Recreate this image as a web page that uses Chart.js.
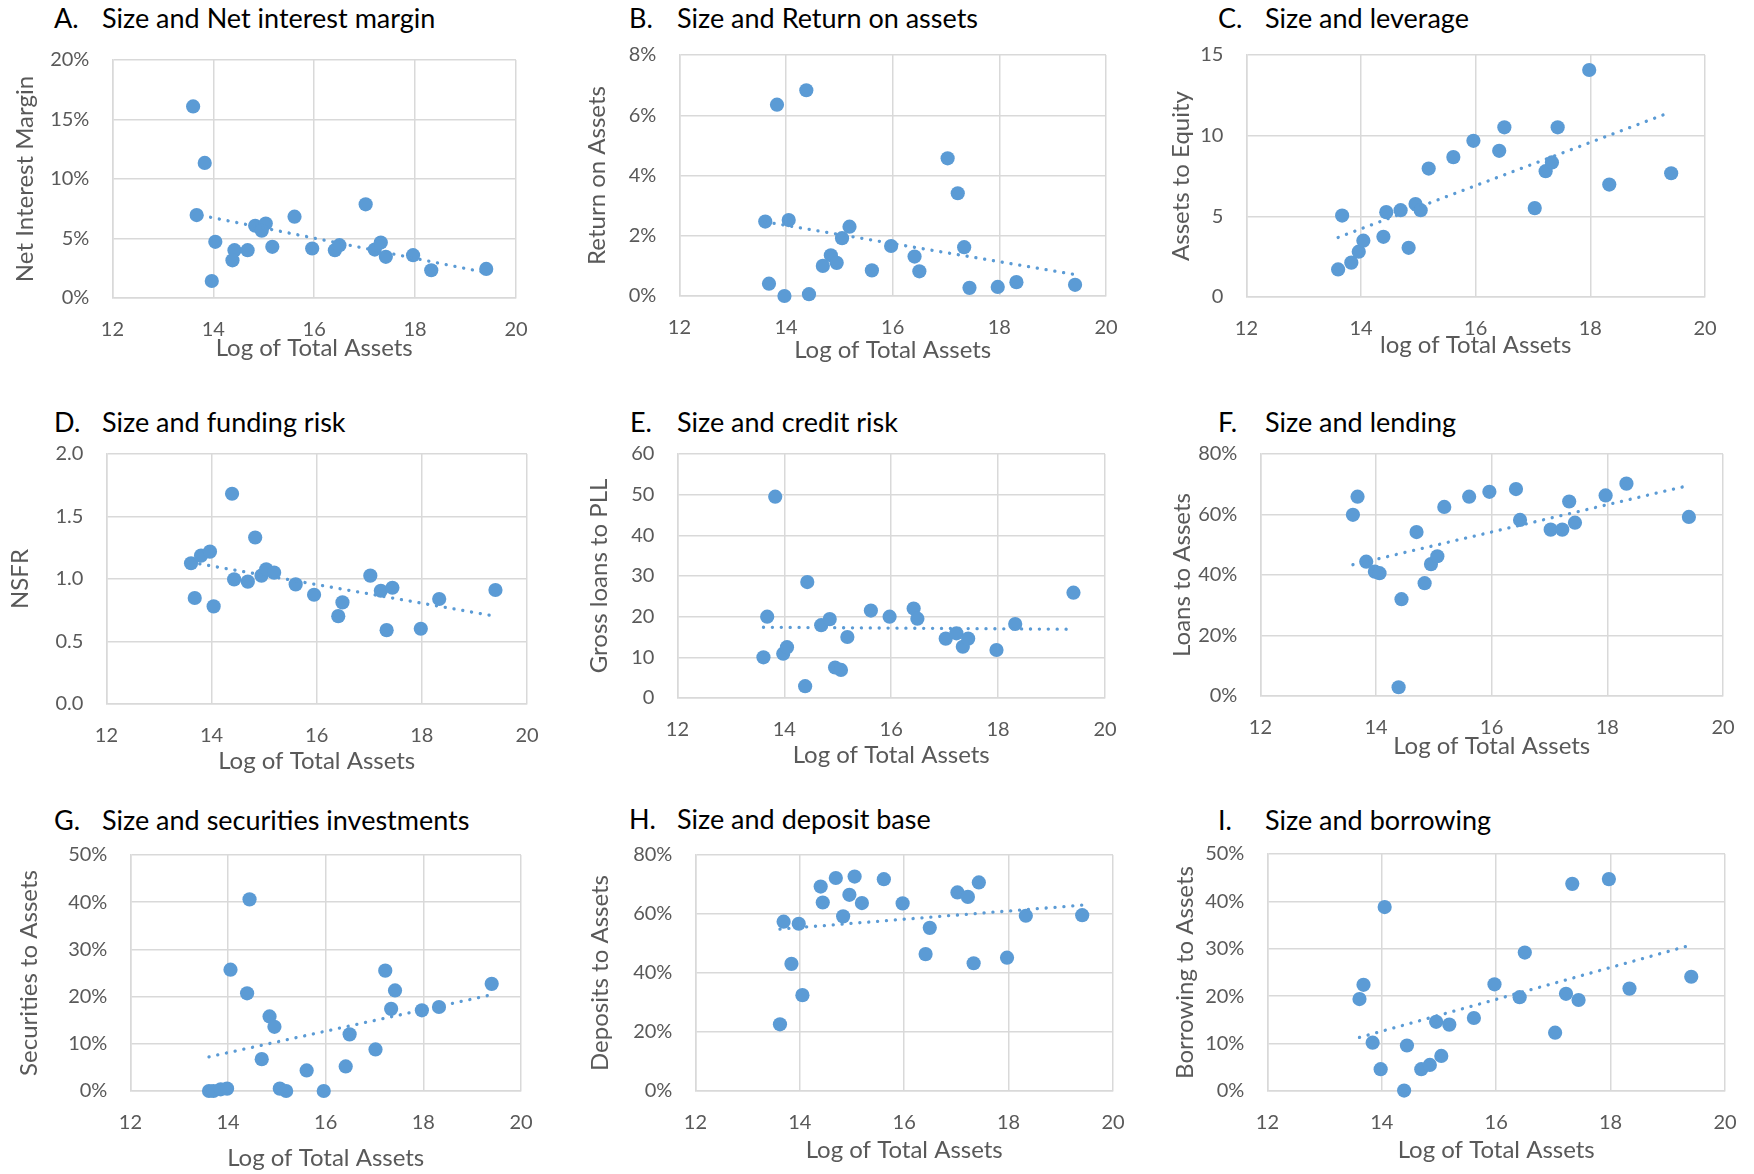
<!DOCTYPE html>
<html>
<head>
<meta charset="utf-8">
<script src="https://cdn.jsdelivr.net/npm/chart.js@4.4.1/dist/chart.umd.min.js"></script>
<style>
  body { margin: 0; background: #fff; width: 1754px; height: 1174px; position: relative; overflow: hidden; font-family: Lato, "Open Sans", sans-serif; }
  canvas { position: absolute; }
  .title { position: absolute; font-size: 27px; line-height: 27px; color: #000; white-space: nowrap; }
</style>
</head>
<body>
<script>
// ---------- data (x = log of total assets) ----------

// A. Net interest margin (%)
const xA = [13.60, 13.83, 13.67, 14.04, 13.97, 14.42, 14.38, 14.68, 14.83, 15.04, 14.96, 15.17, 15.61, 15.96, 16.41, 16.50, 17.02, 17.20, 17.32, 17.42, 17.96, 18.32, 19.41];
const yA = [16.1, 11.35, 6.97, 4.72, 1.43, 4.02, 3.17, 4.02, 6.07, 6.26, 5.65, 4.30, 6.83, 4.16, 4.02, 4.44, 7.87, 4.07, 4.66, 3.46, 3.60, 2.33, 2.44];
const trendXA = [13.60, 19.41];
const trendYA = [7.08, 2.13];

// B. Return on assets (%)
const xB = [13.83, 14.38, 13.61, 14.05, 13.68, 13.97, 14.43, 14.69, 14.84, 14.95, 15.05, 15.19, 15.61, 15.97, 16.41, 16.50, 17.03, 17.22, 17.34, 17.44, 17.97, 18.32, 19.42];
const yB = [6.35, 6.83, 2.47, 2.52, 0.41, 0.0, 0.06, 1.0, 1.35, 1.10, 1.92, 2.30, 0.85, 1.66, 1.31, 0.82, 4.57, 3.41, 1.62, 0.27, 0.30, 0.46, 0.37];
const trendXB = [13.61, 19.42];
const trendYB = [2.46, 0.71];

// C. Assets to equity
const xC = [13.60, 13.83, 13.96, 14.04, 13.67, 14.39, 14.44, 14.69, 14.83, 14.95, 15.04, 15.18, 15.61, 15.96, 16.41, 16.50, 17.03, 17.22, 17.33, 17.43, 17.98, 18.33, 19.41];
const yC = [1.71, 2.13, 2.81, 3.49, 5.05, 3.73, 5.26, 5.38, 3.05, 5.76, 5.38, 7.96, 8.67, 9.68, 9.06, 10.52, 5.51, 7.80, 8.34, 10.52, 14.07, 6.97, 7.67];
const trendXC = [13.60, 19.41];
const trendYC = [3.69, 11.47];

// D. NSFR
const xD = [13.61, 13.80, 13.97, 13.68, 14.04, 14.39, 14.43, 14.69, 14.83, 14.95, 15.04, 15.19, 15.60, 15.95, 16.41, 16.49, 17.02, 17.22, 17.33, 17.44, 17.98, 18.33, 19.40];
const yD = [1.126, 1.187, 1.219, 0.848, 0.781, 1.682, 0.997, 0.979, 1.332, 1.027, 1.078, 1.051, 0.957, 0.874, 0.703, 0.813, 1.027, 0.906, 0.591, 0.930, 0.602, 0.840, 0.912];
const trendXD = [13.61, 19.40];
const trendYD = [1.133, 0.702];

// E. Gross loans to PLL
const xE = [13.61, 13.68, 13.83, 13.98, 14.05, 14.39, 14.43, 14.69, 14.85, 14.95, 15.06, 15.18, 15.62, 15.97, 16.42, 16.49, 17.02, 17.22, 17.34, 17.44, 17.97, 18.32, 19.41];
const yE = [10.0, 20.0, 49.5, 10.9, 12.5, 2.9, 28.5, 17.9, 19.4, 7.5, 6.9, 15.0, 21.5, 20.0, 22.0, 19.5, 14.6, 15.9, 12.6, 14.6, 11.8, 18.2, 25.9];
const trendXE = [13.61, 19.41];
const trendYE = [17.4, 16.9];

// F. Loans to assets (%)
const xF = [13.60, 13.68, 13.83, 13.98, 14.06, 14.39, 14.44, 14.70, 14.84, 14.95, 15.06, 15.18, 15.61, 15.96, 16.42, 16.49, 17.02, 17.22, 17.34, 17.44, 17.97, 18.33, 19.41];
const yF = [59.9, 65.9, 44.4, 41.1, 40.6, 2.9, 32.0, 54.2, 37.3, 43.6, 46.2, 62.5, 65.9, 67.5, 68.4, 58.2, 55.0, 55.0, 64.3, 57.3, 66.3, 70.2, 59.2];
const trendXF = [13.60, 19.41];
const trendYF = [43.4, 69.6];

// G. Securities to assets (%)
const xG = [13.61, 13.70, 13.85, 13.98, 14.05, 14.44, 14.39, 14.69, 14.85, 14.95, 15.06, 15.19, 15.61, 15.96, 16.41, 16.49, 17.02, 17.22, 17.34, 17.42, 17.97, 18.32, 19.40];
const yG = [0.0, 0.0, 0.35, 0.5, 25.7, 40.6, 20.7, 6.75, 15.8, 13.6, 0.5, 0.0, 4.36, 0.0, 5.2, 12.0, 8.8, 25.5, 17.4, 21.3, 17.1, 17.8, 22.7];
const trendXG = [13.61, 19.40];
const trendYG = [7.24, 20.4];

// H. Deposits to assets (%)
const xH = [13.62, 13.69, 13.84, 13.98, 14.05, 14.40, 14.44, 14.69, 14.83, 14.95, 15.05, 15.19, 15.61, 15.97, 16.41, 16.49, 17.02, 17.22, 17.33, 17.43, 17.97, 18.33, 19.41];
const yH = [22.6, 57.4, 43.1, 56.7, 32.5, 69.3, 63.9, 72.2, 59.2, 66.5, 72.7, 63.7, 71.8, 63.6, 46.4, 55.3, 67.3, 65.8, 43.3, 70.7, 45.2, 59.4, 59.6];
const trendXH = [13.62, 19.41];
const trendYH = [54.9, 63.0];

// I. Borrowing to assets (%)
const xI = [13.61, 13.68, 13.84, 13.98, 14.05, 14.39, 14.44, 14.69, 14.84, 14.95, 15.04, 15.18, 15.61, 15.97, 16.41, 16.50, 17.03, 17.22, 17.33, 17.44, 17.97, 18.33, 19.41];
const yI = [19.4, 22.4, 10.2, 4.6, 38.8, 0.1, 9.6, 4.6, 5.5, 14.6, 7.4, 14.0, 15.4, 22.5, 19.8, 29.2, 12.3, 20.5, 43.7, 19.2, 44.7, 21.6, 24.1];
const trendXI = [13.61, 19.41];
const trendYI = [11.3, 30.8];

const xTicks = [12, 14, 16, 18, 20];

/* ===============================
   PANELS
================================ */

const pct = v => v + "%";
const panels = [
  { label: "A.", title: "Size and Net interest margin", yTitle: "Net Interest Margin", xTitle: "Log of Total Assets", x: xA, y: yA, tx: trendXA, ty: trendYA, yMax: 20, step: 5, fmt: pct },
  { label: "B.", title: "Size and Return on assets", yTitle: "Return on Assets", xTitle: "Log of Total Assets", x: xB, y: yB, tx: trendXB, ty: trendYB, yMax: 8, step: 2, fmt: pct },
  { label: "C.", title: "Size and leverage", yTitle: "Assets to Equity", xTitle: "log of Total Assets", x: xC, y: yC, tx: trendXC, ty: trendYC, yMax: 15, step: 5, fmt: v => v },
  { label: "D.", title: "Size and funding risk", yTitle: "NSFR", xTitle: "Log of Total Assets", x: xD, y: yD, tx: trendXD, ty: trendYD, yMax: 2, step: 0.5, fmt: v => v.toFixed(1) },
  { label: "E.", title: "Size and credit risk", yTitle: "Gross loans to PLL", xTitle: "Log of Total Assets", x: xE, y: yE, tx: trendXE, ty: trendYE, yMax: 60, step: 10, fmt: v => v },
  { label: "F.", title: "Size and lending", yTitle: "Loans to Assets", xTitle: "Log of Total Assets", x: xF, y: yF, tx: trendXF, ty: trendYF, yMax: 80, step: 20, fmt: pct },
  { label: "G.", title: "Size and securities investments", yTitle: "Securities to Assets", xTitle: "Log of Total Assets", x: xG, y: yG, tx: trendXG, ty: trendYG, yMax: 50, step: 10, fmt: pct },
  { label: "H.", title: "Size and deposit base", yTitle: "Deposits to Assets", xTitle: "Log of Total Assets", x: xH, y: yH, tx: trendXH, ty: trendYH, yMax: 80, step: 20, fmt: pct },
  { label: "I.", title: "Size and borrowing", yTitle: "Borrowing to Assets", xTitle: "Log of Total Assets", x: xI, y: yI, tx: trendXI, ty: trendYI, yMax: 50, step: 10, fmt: pct }
];

// plot box [left, right, top, bottom], axis title centres, heading positions
const boxes = [
  { plot: [112, 516, 60, 298],     yTitleX: 25,   xTitleY: 349,  head: [54, 102],     headTop: 4 },
  { plot: [679, 1106, 55, 296],    yTitleX: 597,  xTitleY: 351,  head: [629, 677],    headTop: 4 },
  { plot: [1246, 1705, 55, 297],   yTitleX: 1181, xTitleY: 346,  head: [1218, 1265],  headTop: 4 },
  { plot: [106, 527, 454, 704],    yTitleX: 20,   xTitleY: 762,  head: [54, 102],     headTop: 408 },
  { plot: [677, 1105, 454, 698],   yTitleX: 599,  xTitleY: 756,  head: [630, 677],    headTop: 408 },
  { plot: [1260, 1723, 454, 696],  yTitleX: 1182, xTitleY: 747,  head: [1218, 1265],  headTop: 408 },
  { plot: [130, 521, 855, 1091],   yTitleX: 29,   xTitleY: 1159, head: [54, 102],     headTop: 806 },
  { plot: [695, 1113, 855, 1091],  yTitleX: 600,  xTitleY: 1151, head: [629, 677],    headTop: 805 },
  { plot: [1267, 1725, 854, 1091], yTitleX: 1185, xTitleY: 1151, head: [1218, 1265],  headTop: 806 }
];

const BLUE = "#5B9BD5";
const GRID = "#d9d9d9";
const TEXT = "#595959";
const AXIS_FONT = 24;
const HALF_LH = AXIS_FONT * 1.2 / 2;
const PAD = 40; // room above and right of the plot for half tick labels

function addHeading(p, b) {
  const l = document.createElement("div");
  l.className = "title";
  l.textContent = p.label;
  l.style.left = b.head[0] + "px";
  l.style.top = b.headTop + "px";
  document.body.appendChild(l);

  const t = document.createElement("div");
  t.className = "title";
  t.textContent = p.title;
  t.style.left = b.head[1] + "px";
  t.style.top = b.headTop + "px";
  document.body.appendChild(t);
}

function drawPanel(p, b) {
  const [pl, pr, pt, pb] = b.plot;
  const left = b.yTitleX - HALF_LH;
  const top = pt - PAD;
  const right = pr + PAD;
  const bottom = b.xTitleY + HALF_LH;

  const canvas = document.createElement("canvas");
  canvas.width = Math.round(right - left);
  canvas.height = Math.round(bottom - top);
  canvas.style.left = left + "px";
  canvas.style.top = top + "px";
  document.body.appendChild(canvas);

  new Chart(canvas, {
    type: "scatter",
    data: {
      datasets: [
        {
          data: p.tx.map((v, i) => ({ x: v, y: p.ty[i] })),
          showLine: true,
          borderColor: BLUE,
          borderWidth: 3.3,
          borderDash: [0.1, 8.8],
          borderCapStyle: "round",
          pointRadius: 0,
          clip: false,
          order: 0
        },
        {
          data: p.x.map((v, i) => ({ x: v, y: p.y[i] })),
          backgroundColor: BLUE,
          pointRadius: 7.1,
          pointBorderWidth: 0,
          clip: false,
          order: 1
        }
      ]
    },
    options: {
      responsive: false,
      animation: false,
      devicePixelRatio: 1,
      layout: { padding: { top: PAD, right: PAD, left: 0, bottom: 0 } },
      plugins: { legend: { display: false }, tooltip: { enabled: false } },
      scales: {
        x: {
          type: "linear",
          min: xTicks[0],
          max: xTicks[xTicks.length - 1],
          afterBuildTicks: s => { s.ticks = xTicks.map(v => ({ value: v })); },
          ticks: { padding: 20, color: TEXT, font: { family: "Lato", size: 20 } },
          grid: { color: GRID, lineWidth: 1.5, drawTicks: false },
          border: { color: GRID, width: 1.5 },
          title: { display: true, text: p.xTitle, color: TEXT, font: { family: "Lato", size: AXIS_FONT }, padding: 0 },
          afterFit: s => { s.height = canvas.height - PAD - (pb - pt); }
        },
        y: {
          type: "linear",
          min: 0,
          max: p.yMax,
          ticks: { stepSize: p.step, padding: 23, color: TEXT, font: { family: "Lato", size: 20 }, callback: p.fmt },
          grid: { color: GRID, lineWidth: 1.5, drawTicks: false },
          border: { color: GRID, width: 1.5 },
          title: { display: true, text: p.yTitle, color: TEXT, font: { family: "Lato", size: AXIS_FONT }, padding: 0 },
          afterFit: s => { s.width = pl - left; }
        }
      }
    }
  });
}

panels.forEach((p, i) => {
  addHeading(p, boxes[i]);
  drawPanel(p, boxes[i]);
});
</script>
</body>
</html>
